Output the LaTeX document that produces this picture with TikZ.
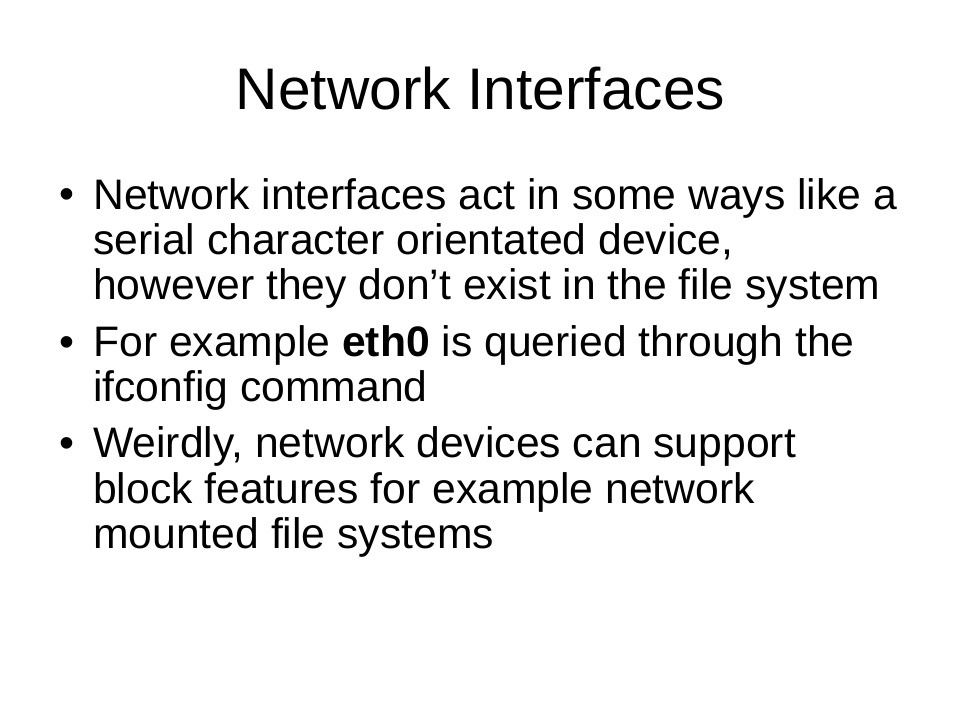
\documentclass[tikz,border=0pt]{standalone}
\usepackage{fontspec}
\setmainfont{Liberation Sans}

\begin{document}
\begin{tikzpicture}
  [x=0.75pt,y=-0.75pt,
  ttl/.style={inner sep=0pt,anchor=base,font=\fontsize{44}{50}\selectfont},
  bul/.style={inner sep=0pt,anchor=base west,font=\fontsize{32}{34.1}\selectfont},
  txt/.style={bul,align=left}]

  \useasboundingbox[fill=white] (0,0) rectangle (960,720);

  \node[ttl] (title) at (480.5,110) {Network Interfaces};

  % text nodes sit on the baseline of their last line
  \node[bul] (b1) at (59.5,209) {•};
  \node[txt] (t1) at (93,300) {Network interfaces act in some ways like a\\
    serial character orientated device,\\
    however they don’t exist in the file system};

  \node[bul] (b2) at (59.5,356) {•};
  \node[txt] (t2) at (93,401.5) {For example \textbf{eth0} is queried through the\\
    ifconfig command};

  \node[bul] (b3) at (59.5,457.5) {•};
  \node[txt] (t3) at (93,548.5) {Weirdly, network devices can support\\
    block features for example network\\
    mounted file systems};
\end{tikzpicture}
\end{document}
